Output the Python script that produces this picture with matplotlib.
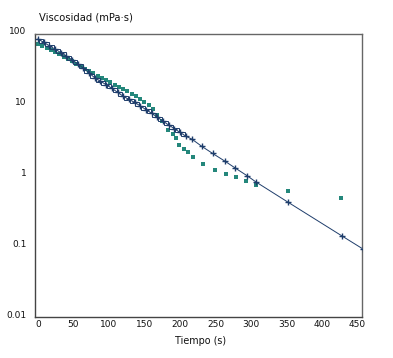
import matplotlib
matplotlib.use("Agg")
import matplotlib.pyplot as plt
import matplotlib.transforms as mtransforms

# Navy series ('+' markers with line)
navy_t = [0, 8, 16, 24, 32, 40, 48, 56, 64, 72, 80, 88, 96, 104, 112, 120, 128,
          136, 144, 152, 160, 168, 176, 184, 192, 200, 208, 217, 231, 246, 263,
          277, 294, 307, 352, 428, 458]
navy_v = [85.1, 76.2, 68.2, 61.1, 54.7, 49.0, 43.1, 37.8, 32.8, 28.1, 24.0, 21.5,
          19.2, 17.1, 15.0, 13.2, 11.9, 10.8, 9.64, 8.55, 7.59, 6.67, 5.86, 5.18,
          4.59, 4.07, 3.61, 3.25, 2.57, 2.05, 1.60, 1.29, 1.00, 0.81, 0.42, 0.14,
          0.091]

# Navy series (open squares, same run)
sq_t = [4, 12, 20, 28, 36, 44, 52, 60, 68, 76, 84, 92, 100, 108, 116, 124, 132,
        140, 148, 156, 164, 172, 180, 188, 196, 204]
sq_v = [80.5, 72.1, 64.6, 57.8, 51.8, 45.9, 40.4, 35.5, 30.3, 25.9, 22.7, 20.3,
        18.2, 16.0, 14.1, 12.5, 11.3, 10.2, 9.08, 8.05, 7.11, 6.25, 5.50, 4.88,
        4.33, 3.84]

# Teal series (filled squares)
teal_t = [0, 6, 12, 18, 24, 30, 36, 42, 48, 54, 60, 66, 72, 78, 84, 90, 96, 102,
          108, 114, 120, 126, 132, 138, 144, 150, 156, 162, 168, 175, 183, 190,
          194, 199, 205, 211, 219, 233, 249, 265, 279, 293, 307, 352, 427]
teal_v = [72, 67, 63, 59, 55, 51.5, 48, 44.5, 41.5, 38, 35, 32.5, 30, 27.8, 25.6,
          23.8, 22.2, 20.7, 19.2, 17.9, 16.6, 15.4, 14.2, 13.1, 12.0, 11.0, 9.8,
          8.6, 7.2, 5.9, 4.4, 3.8, 3.35, 2.7, 2.4, 2.17, 1.8, 1.44, 1.2, 1.06,
          0.95, 0.84, 0.73, 0.60, 0.48]

x_ticks = [0, 50, 100, 150, 200, 250, 300, 350, 400, 450]
y_ticks = [0.01, 0.1, 1, 10, 100]
y_tick_labels = ["0.01", "0.1", "1", "10", "100"]

NAVY = "#1e3d6b"
TEAL = "#24877b"

plt.rcParams['font.family'] = ['DejaVu Sans']
fig = plt.figure(figsize=(3.93, 3.58), dpi=100)
ax = fig.add_axes([35/393, 1-317/358, (362-35)/393, (317-34)/358])

ax.plot(teal_t, teal_v, linestyle='none', marker='s', markersize=2.2,
        color=TEAL, markeredgewidth=0, zorder=2)
ax.plot(navy_t, navy_v, color=NAVY, linewidth=0.7, marker='+', markersize=4.5,
        markeredgewidth=1.0, zorder=3)
ax.plot(sq_t, sq_v, linestyle='none', marker='s', markersize=2.4,
        markerfacecolor='none', markeredgecolor=NAVY, markeredgewidth=0.7, zorder=3)

ax.set_yscale('log')
ax.set_xlim(-4.2, 456.3)
ax.set_ylim(0.01, 100)
ax.set_xticks(x_ticks)
ax.set_xticklabels([str(v) for v in x_ticks])
ax.set_yticks(y_ticks)
ax.set_yticklabels(y_tick_labels)
ax.minorticks_off()
ax.tick_params(axis='both', length=0, labelsize=6.5, colors='#111111')
ax.tick_params(axis='y', pad=6)
ax.tick_params(axis='x', pad=2)

offset = mtransforms.ScaledTranslation(0, 3/100, fig.dpi_scale_trans)
for lab in ax.get_yticklabels():
    lab.set_transform(lab.get_transform() + offset)

for side in ['left', 'bottom']:
    ax.spines[side].set_color('#444444')
    ax.spines[side].set_linewidth(1.0)
for side in ['top', 'right']:
    ax.spines[side].set_color('#666666')
    ax.spines[side].set_linewidth(1.0)

fig.text(39/393, 1-17/358, "Viscosidad (mPa·s)", fontsize=7.2, ha='left',
         va='center', color='#111111')
fig.text(201/393, 1-341/358, "Tiempo (s)", fontsize=6.9, ha='center',
         va='center', color='#111111')

fig.savefig("out.png", dpi=100)
